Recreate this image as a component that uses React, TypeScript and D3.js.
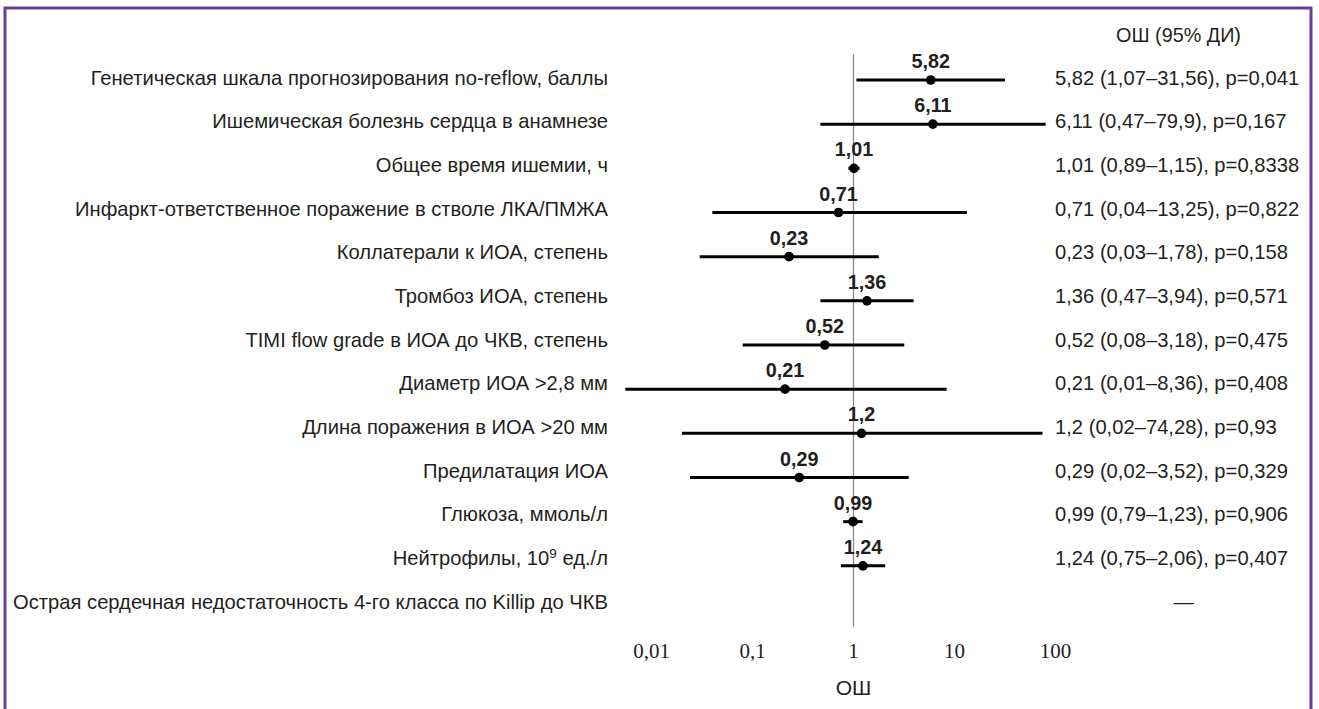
import React from "react";
import * as d3 from "d3";

const labels = [
  "Генетическая шкала прогнозирования no-reflow, баллы",
  "Ишемическая болезнь сердца в анамнезе",
  "Общее время ишемии, ч",
  "Инфаркт-ответственное поражение в стволе ЛКА/ПМЖА",
  "Коллатерали к ИОА, степень",
  "Тромбоз ИОА, степень",
  "TIMI flow grade в ИОА до ЧКВ, степень",
  "Диаметр ИОА >2,8 мм",
  "Длина поражения в ИОА >20 мм",
  "Предилатация ИОА",
  "Глюкоза, ммоль/л",
  "Нейтрофилы, 10^9 ед./л",
  "Острая сердечная недостаточность 4-го класса по Killip до ЧКВ",
];

const oddsRatio: (number | null)[] = [5.82, 6.11, 1.01, 0.71, 0.23, 1.36, 0.52, 0.21, 1.2, 0.29, 0.99, 1.24, null];
const ciLow: (number | null)[] = [1.07, 0.47, 0.89, 0.04, 0.03, 0.47, 0.08, 0.01, 0.02, 0.02, 0.79, 0.75, null];
const ciHigh: (number | null)[] = [31.56, 79.9, 1.15, 13.25, 1.78, 3.94, 3.18, 8.36, 74.28, 3.52, 1.23, 2.06, null];
const pValue: (number | null)[] = [0.041, 0.167, 0.8338, 0.822, 0.158, 0.571, 0.475, 0.408, 0.93, 0.329, 0.906, 0.407, null];
// whisker left ends as drawn in the figure
const whiskerLow: (number | null)[] = [1.07, 0.47, 0.89, 0.04, 0.03, 0.47, 0.08, 0.0055, 0.02, 0.024, 0.79, 0.75, null];

const tickValues = [0.01, 0.1, 1, 10, 100];
const tickLabels = ["0,01", "0,1", "1", "10", "100"];

const W = 1319;
const H = 709;
const INK = "#231f20";
const SANS = "'Liberation Sans', Arial, Helvetica, sans-serif";
const SERIF = "'Liberation Serif', 'Times New Roman', serif";
const FS = 20.2;

const fmt = (v: number) => String(v).replace(".", ",");

export default function App() {
  const x = d3.scaleLog().domain([0.01, 100]).range([651.5, 1055.5]);
  const idx = labels.map((_, i) => i);
  const yLine = d3.scalePoint<number>().domain(idx).range([80, 610]);
  const yText = d3.scalePoint<number>().domain(idx).range([84.5, 608.5]);
  const x1 = x(1);

  const renderLabel = (s: string) => {
    if (s.includes("^")) {
      const [a, rest] = s.split("^");
      const sup = rest[0];
      const tail = rest.slice(1);
      return (
        <>
          {a}
          <tspan baselineShift="super" fontSize={13.5}>{sup}</tspan>
          {tail}
        </>
      );
    }
    return s;
  };

  return (
    <svg
      width={W}
      height={H}
      style={{ position: "absolute", left: 0, top: 0, display: "block", background: "#fff" }}
    >
      <rect x={0} y={0} width={W} height={H} fill="#fff" />
      <path d={`M5,${H + 5} V8 H1311 V${H + 5}`} fill="none" stroke="#6a3d9a" strokeWidth={3} />

      <text x={1178.5} y={42} textAnchor="middle" fontFamily={SANS} fontSize={19.8} fill={INK}>
        ОШ (95% ДИ)
      </text>

      <line x1={x1} x2={x1} y1={54} y2={627} stroke="#8a8a8a" strokeWidth={1.3} />

      {labels.map((lab, i) => (
        <text key={"l" + i} x={608} y={yText(i)} textAnchor="end" fontFamily={SANS} fontSize={FS} fill={INK}>
          {renderLabel(lab)}
        </text>
      ))}

      {idx.map((i) => {
        const o = oddsRatio[i];
        const yl = yLine(i)!;
        if (o == null) return null;
        return (
          <g key={"m" + i}>
            <line x1={x(whiskerLow[i]!)} x2={x(ciHigh[i]!)} y1={yl} y2={yl} stroke="#000" strokeWidth={3} />
            <circle cx={x(o)} cy={yl} r={4.8} fill="#000" />
            <text x={x(o)} y={yl - 12} textAnchor="middle" fontFamily={SANS} fontWeight="bold" fontSize={19.8} fill={INK}>
              {fmt(o)}
            </text>
          </g>
        );
      })}

      {idx.map((i) => {
        const o = oddsRatio[i];
        if (o == null) {
          return (
            <text key={"r" + i} x={1183.5} y={yText(i)} textAnchor="middle" fontFamily={SANS} fontSize={FS} fill={INK}>
              —
            </text>
          );
        }
        return (
          <text key={"r" + i} x={1055} y={yText(i)} fontFamily={SANS} fontSize={FS} fill={INK}>
            {`${fmt(o)} (${fmt(ciLow[i]!)}–${fmt(ciHigh[i]!)}), p=${fmt(pValue[i]!)}`}
          </text>
        );
      })}

      {tickValues.map((t, i) => (
        <text key={"t" + i} x={x(t)} y={658} textAnchor="middle" fontFamily={SERIF} fontSize={21} fill={INK}>
          {tickLabels[i]}
        </text>
      ))}

      <text x={x1} y={695} textAnchor="middle" fontFamily={SANS} fontSize={21} fill={INK}>
        ОШ
      </text>
    </svg>
  );
}
